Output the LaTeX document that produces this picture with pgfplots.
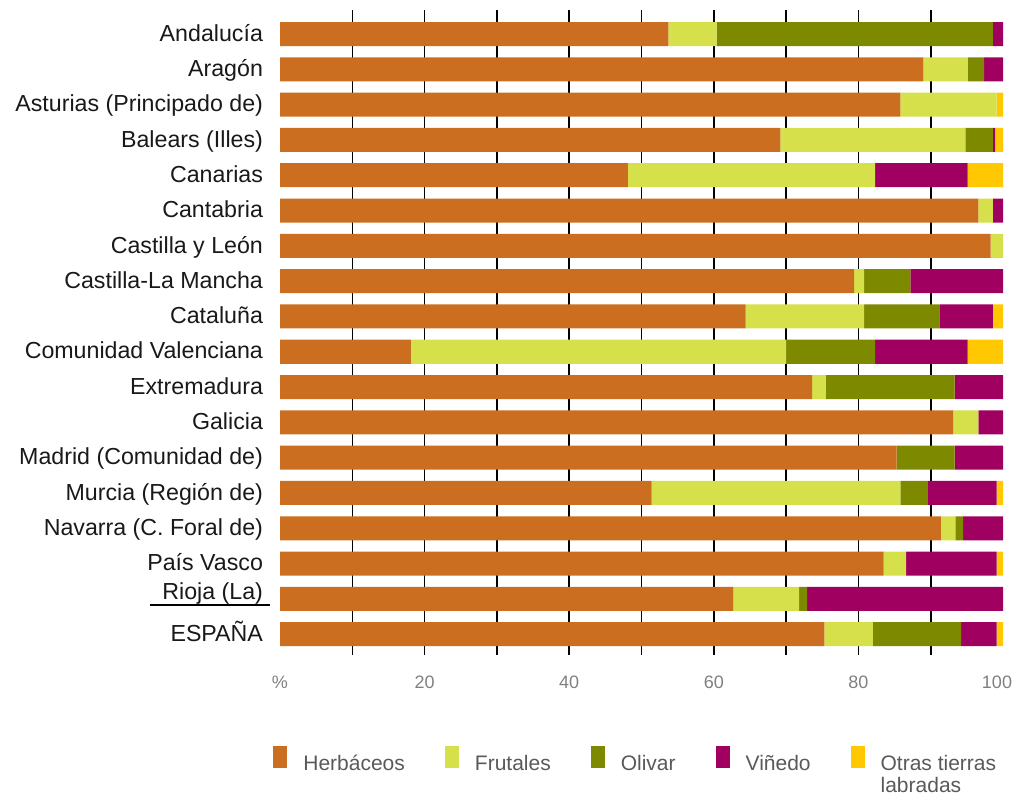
\documentclass[border=0pt]{standalone}
\usepackage{pgfplots}
\pgfplotsset{compat=1.18}
\usepackage{fontspec}
\setmainfont{Liberation Sans}
\definecolor{herb}{HTML}{CC6E1F}
\definecolor{frut}{HTML}{D5E04A}
\definecolor{oliv}{HTML}{7D8A00}
\definecolor{vine}{HTML}{A0005F}
\definecolor{otra}{HTML}{FFC800}

\begin{document}
\begin{tikzpicture}
\useasboundingbox (0,0) rectangle (508.5pt,399.5pt);
\begin{axis}[
    at={(140pt,72pt)}, anchor=south west,
    width=361.5pt, height=322.5pt, scale only axis,
    xbar stacked, bar width=0.68,
    xmin=0, xmax=100, ymin=-0.68, ymax=17.59, y dir=reverse,
    ytick={0,...,17},
    yticklabels={Andalucía, Aragón, Asturias (Principado de), Balears (Illes),
      Canarias, Cantabria, Castilla y León, Castilla-La Mancha, Cataluña,
      Comunidad Valenciana, Extremadura, Galicia, Madrid (Comunidad de),
      Murcia (Región de), Navarra (C. Foral de), País Vasco,
      \raisebox{3.5pt}{Rioja (La)}, ESPAÑA},
    yticklabel style={font=\fontsize{11.6}{13}\selectfont, text=black!90,
      text height=7.2pt, text depth=0pt, xshift=-5pt},
    xtick={0,20,40,60,80,100},
    xticklabels={\%,20,40,60,80,\makebox[0pt][c]{\hspace*{-6pt}100}},
    xticklabel style={font=\fontsize{9}{11}\selectfont, text=black!50, yshift=-7pt},
    extra x ticks={10,20,...,90}, extra x tick labels={},
    extra x tick style={grid=major, major grid style={black, line width=0.8pt}},
    axis line style={draw=none}, major tick style={draw=none},
    clip=false,
    legend columns=5,
    legend style={at={(axis description cs:-0.0097,-0.141)}, anchor=north west,
      draw=none, fill=none, inner sep=0pt,
      font=\fontsize{10.5}{12.5}\selectfont, text=black!65,
      /tikz/every odd column/.append style={column sep=6pt},
      /tikz/every even column/.append style={column sep=18pt}},
    legend cell align=left,
    legend image code/.code={\fill[#1] (0pt,-2pt) rectangle (7pt,9pt);},
]
\addplot[fill=herb, draw=none] coordinates {
(53.7,0) (89.0,1) (85.8,2) (69.2,3) (48.1,4) (96.6,5) (98.3,6) (79.4,7) (64.4,8)
(18.1,9) (73.6,10) (93.1,11) (85.3,12) (51.4,13) (91.4,14) (83.5,15) (62.7,16) (75.3,17)};
\addlegendentry{Herbáceos}
\addplot[fill=frut, draw=none] coordinates {
(6.7,0) (6.1,1) (13.3,2) (25.6,3) (34.2,4) (2.0,5) (1.7,6) (1.4,7) (16.4,8)
(51.9,9) (1.9,10) (3.5,11) (0.0,12) (34.4,13) (2.0,14) (3.1,15) (9.1,16) (6.7,17)};
\addlegendentry{Frutales}
\addplot[fill=oliv, draw=none] coordinates {
(38.2,0) (2.3,1) (0.0,2) (3.8,3) (0.0,4) (0.0,5) (0.0,6) (6.4,7) (10.4,8)
(12.3,9) (17.8,10) (0.0,11) (8.0,12) (3.8,13) (1.1,14) (0.0,15) (1.1,16) (12.2,17)};
\addlegendentry{Olivar}
\addplot[fill=vine, draw=none] coordinates {
(1.4,0) (2.6,1) (0.0,2) (0.3,3) (12.8,4) (1.4,5) (0.0,6) (12.8,7) (7.4,8)
(12.8,9) (6.7,10) (3.4,11) (6.7,12) (9.5,13) (5.5,14) (12.5,15) (27.1,16) (4.9,17)};
\addlegendentry{Viñedo}
\addplot[fill=otra, draw=none] coordinates {
(0.0,0) (0.0,1) (0.9,2) (1.1,3) (4.9,4) (0.0,5) (0.0,6) (0.0,7) (1.4,8)
(4.9,9) (0.0,10) (0.0,11) (0.0,12) (0.9,13) (0.0,14) (0.9,15) (0.0,16) (0.9,17)};
\addlegendentry{\renewcommand{\arraystretch}{0.88}\begin{tabular}[t]{@{}l@{}}Otras tierras\\labradas\end{tabular}}
\draw[black, line width=0.8pt] (axis cs:-18,16.17) -- (axis cs:-1.4,16.17);
\end{axis}
\end{tikzpicture}
\end{document}
